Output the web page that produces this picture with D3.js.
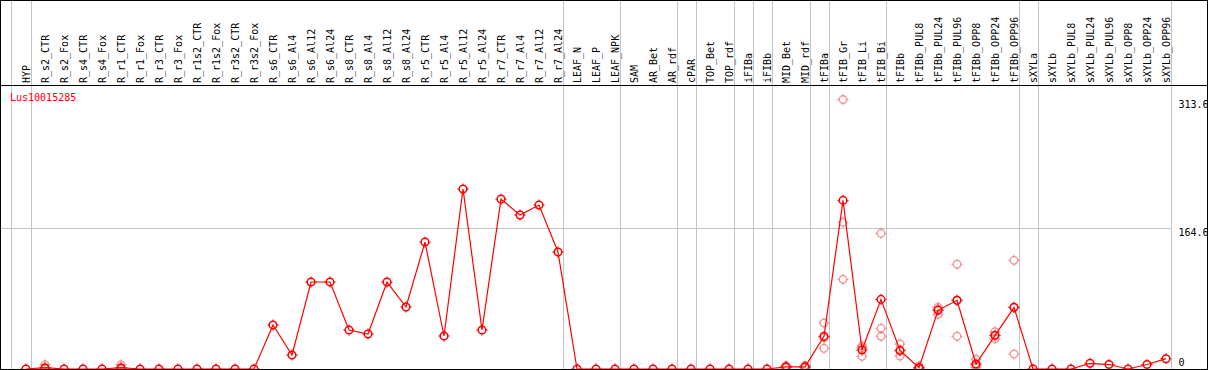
<!DOCTYPE html>
<html>
<head>
<meta charset="utf-8">
<script src="https://cdn.jsdelivr.net/npm/d3@7"></script>
<style>
  body { margin: 0; background: #fff; }
  svg { display: block; }
  text { font-family: "DejaVu Sans Mono", monospace; font-size: 10px; }
</style>
</head>
<body>
<div id="chart"></div>
<script>
// sample names along the x axis
const samples = [
  'HYP', 'R_s2_CTR', 'R_s2_Fox', 'R_s4_CTR', 'R_s4_Fox', 'R_r1_CTR', 'R_r1_Fox',
  'R_r3_CTR', 'R_r3_Fox', 'R_r1s2_CTR', 'R_r1s2_Fox', 'R_r3s2_CTR', 'R_r3s2_Fox',
  'R_s6_CTR', 'R_s6_Al4', 'R_s6_Al12', 'R_s6_Al24', 'R_s8_CTR', 'R_s8_Al4',
  'R_s8_Al12', 'R_s8_Al24', 'R_r5_CTR', 'R_r5_Al4', 'R_r5_Al12', 'R_r5_Al24',
  'R_r7_CTR', 'R_r7_Al4', 'R_r7_Al12', 'R_r7_Al24', 'LEAF_N', 'LEAF_P', 'LEAF_NPK',
  'SAM', 'AR_Bet', 'AR_rdf', 'cPAR', 'TOP_Bet', 'TOP_rdf', 'iFIBa', 'iFIBb',
  'MID_Bet', 'MID_rdf', 'tFIBa', 'tFIB_Gr', 'tFIB_Li', 'tFIB_Bi', 'tFIBb',
  'tFIBb_PUL8', 'tFIBb_PUL24', 'tFIBb_PUL96', 'tFIBb_OPP8', 'tFIBb_OPP24',
  'tFIBb_OPP96', 'sXYLa', 'sXYLb', 'sXYLb_PUL8', 'sXYLb_PUL24', 'sXYLb_PUL96',
  'sXYLb_OPP8', 'sXYLb_OPP24', 'sXYLb_OPP96'
];

// mean expression per sample
const means = [
  0, 1.5, 0, 0, 0, 1.5, 0, 0, 0, 0, 0, 0, 0,
  51.2, 16.3, 101.2, 101.2, 45.4, 40.7, 101.2, 72.1,
  147.7, 38.4, 209.4, 45.4, 197.7, 179.1, 190.8, 136.1,
  0, 0, 0, 0, 0, 0, 0, 0, 0, 0, 0,
  2.5, 2.5, 38, 196.2, 22.1, 81, 21.7,
  1.5, 68.3, 79.9, 5.8, 39.2, 71.8,
  0, 0, 0, 6.6, 5.2, 0, 5.2, 12
];

// individual replicates (only where they show)
const repSamples = [
  'R_s2_CTR', 'R_r1_CTR', 'MID_Bet', 'MID_rdf', 'tFIBa', 'tFIB_Gr', 'tFIB_Li',
  'tFIB_Bi', 'tFIBb', 'tFIBb_PUL8', 'tFIBb_PUL24', 'tFIBb_PUL96', 'tFIBb_OPP8',
  'tFIBb_OPP24', 'tFIBb_OPP96'
];
const repValues = [
  [5, 0, 0], [5, 0, 0], [4, 2, 1.5], [4, 2, 1.5], [53.5, 24, 36.5],
  [313.6, 170.6, 104.3], [26.8, 14.7, 24.8], [157.8, 47.3, 38], [29, 15.1, 21],
  [3.5, 1, 0], [71.8, 63.6, 69.5], [121.8, 38, 80], [11.3, 2, 4.1],
  [43.4, 35.2, 39], [126.4, 17.4, 71.6]
];

// column separators are drawn after these samples
const groupEnds = [
  'HYP', 'R_r7_Al24', 'LEAF_NPK', 'AR_rdf', 'cPAR', 'TOP_rdf', 'iFIBa', 'iFIBb',
  'MID_rdf', 'tFIBa', 'tFIB_Bi', 'tFIBb_OPP96', 'sXYLa', 'sXYLb_OPP96'
];

const yTicks = [0, 164.6, 313.6];
const yGrid = [164.6];
const geneId = 'Lus10015285';

const width = 1209;
const height = 370;
const headerBottom = 85.5;
const plotBottom = 369;
const red = '#ff0000';
const faint = 'rgba(235,90,90,0.6)';
const grey = '#c4c4c4';

const x = d3.scalePoint()
  .domain(samples)
  .range([26, 26 + 19 * (samples.length - 1)]);

const y = d3.scaleLinear()
  .domain([0, 313.6 * 1.05])
  .range([plotBottom, 86]);

const svg = d3.select('#chart').append('svg')
  .attr('width', width)
  .attr('height', height);

svg.append('defs').append('clipPath').attr('id', 'frame')
  .append('rect').attr('x', 0).attr('y', 0).attr('width', 1207).attr('height', 370);

const lastX = x(samples[samples.length - 1]) + 4.5;

// vertical separators (span header too)
const seps = [x(samples[0]) - 15.5].concat(groupEnds.map((s) => x(s) + 4.5));
svg.append('g').selectAll('line')
  .data(seps)
  .join('line')
  .attr('x1', (d) => Math.round(d) + 0.5)
  .attr('x2', (d) => Math.round(d) + 0.5)
  .attr('y1', 0)
  .attr('y2', plotBottom)
  .attr('stroke', grey)
  .attr('shape-rendering', 'crispEdges');

// horizontal grid
svg.append('g').selectAll('line')
  .data(yGrid)
  .join('line')
  .attr('x1', 0)
  .attr('x2', Math.round(lastX) + 0.5)
  .attr('y1', (d) => Math.round(y(d)) + 0.5)
  .attr('y2', (d) => Math.round(y(d)) + 0.5)
  .attr('stroke', grey)
  .attr('shape-rendering', 'crispEdges');

// header labels
svg.append('g').selectAll('text')
  .data(samples)
  .join('text')
  .attr('transform', (d) => `translate(${x(d) + 4},83) rotate(-90)`)
  .attr('fill', '#000')
  .text((d) => d);

// y tick labels
svg.append('g').attr('clip-path', 'url(#frame)')
  .selectAll('text')
  .data(yTicks)
  .join('text')
  .attr('x', 1178.5)
  .attr('y', (d) => d === 0 ? plotBottom - 3 : y(d) + 8.5)
  .attr('fill', '#000')
  .text((d) => d);

svg.append('text')
  .attr('x', 10)
  .attr('y', 101)
  .attr('fill', red)
  .text(geneId);

// marker: circle with small ticks on four sides
function marker (g, colour, r) {
  g.append('circle').attr('r', r).attr('fill', 'none')
    .attr('stroke', colour).attr('stroke-width', 1.5);
  [[0, -1], [0, 1], [-1, 0], [1, 0]].forEach(([dx, dy]) => {
    g.append('line')
      .attr('x1', dx * r).attr('y1', dy * r)
      .attr('x2', dx * (r + 1.8)).attr('y2', dy * (r + 1.8))
      .attr('stroke', colour).attr('stroke-width', 1);
  });
}

// replicate points
const reps = [];
repSamples.forEach((s, i) => repValues[i].forEach((v) => reps.push({ s, v })));
svg.append('g').selectAll('g')
  .data(reps)
  .join('g')
  .attr('transform', (d) => `translate(${x(d.s)},${y(d.v)})`)
  .each(function () { marker(d3.select(this), faint, 3.8); });

// mean line
const pts = samples.map((s, i) => ({ s, v: means[i] }));
svg.append('path')
  .datum(pts)
  .attr('fill', 'none')
  .attr('stroke', red)
  .attr('stroke-width', 1.2)
  .attr('d', d3.line().x((d) => x(d.s)).y((d) => y(d.v)));

svg.append('g').selectAll('g')
  .data(pts)
  .join('g')
  .attr('transform', (d) => `translate(${x(d.s)},${y(d.v)})`)
  .each(function () { marker(d3.select(this), red, 3.8); });

// frame and header rule
svg.append('rect')
  .attr('x', 0.5).attr('y', 0.5)
  .attr('width', 1207).attr('height', plotBottom)
  .attr('fill', 'none').attr('stroke', '#000').attr('stroke-width', 1.5)
  .attr('shape-rendering', 'crispEdges');
svg.append('line')
  .attr('x1', 0).attr('x2', 1208)
  .attr('y1', headerBottom).attr('y2', headerBottom)
  .attr('stroke', '#000').attr('stroke-width', 1.5)
  .attr('shape-rendering', 'crispEdges');
</script>
</body>
</html>
